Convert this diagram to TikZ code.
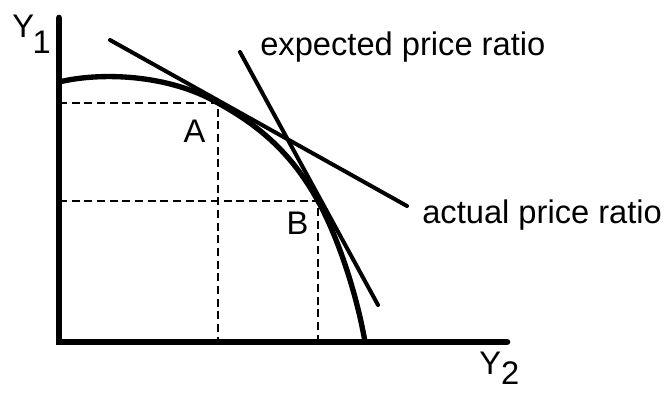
\documentclass[tikz,border=0pt]{standalone}
\usepackage{fontspec}
\setmainfont{Liberation Sans}
\usetikzlibrary{positioning}
\begin{document}
\begin{tikzpicture}[x=0.75pt, y=-0.75pt,
  axisline/.style={line width=5pt, line cap=round},
  ppfcurve/.style={line width=4pt},
  priceline/.style={line width=3pt, line cap=round},
  guide/.style={line width=2pt, dash pattern=on 6pt off 3.5pt},
  lbl/.style={inner sep=0pt, font=\fontsize{24.5}{29}\selectfont}]
\useasboundingbox (0,0) rectangle (671,393);

% axes
\coordinate (top) at (59,18);
\coordinate (origin) at (59,342);
\coordinate (right) at (507,342);
\draw[axisline] (top) -- (origin) -- (right);

% points of tangency
\coordinate (A) at (218,103);
\coordinate (B) at (318,201);

\draw[guide] (origin |- A) -- (A) -- (A |- origin);
\draw[guide] (origin |- B) -- (B) -- (B |- origin);

% production possibility curve
\coordinate (ppfstart) at (59,82);
\coordinate (ppfend) at (365,342);
\draw[ppfcurve] (ppfstart) .. controls (100,72) and (168,74) .. (A)
  .. controls (258,125) and (291,152) .. (B)
  .. controls (338,237) and (357,295) .. (ppfend);

% price lines
\coordinate (act1) at (110,40);
\coordinate (act2) at (407,206);
\coordinate (exp1) at (240,52);
\coordinate (exp2) at (378,305);
\draw[priceline] (act1) -- (act2);
\draw[priceline] (exp1) -- (exp2);

% labels
\node[lbl, anchor=base west] (explabel) at (260,55) {expected price ratio};
\node[lbl, anchor=base west] (actlabel) at (422,223) {actual price ratio};
\node[lbl] (labA) at (194.5,131) {A};
\node[lbl] (labB) at (297.5,223.5) {B};
\node[lbl, anchor=base west] (ylabel) at (12,37) {Y\kern-1pt\raisebox{-12pt}{1}};
\node[lbl, anchor=base west] (xlabel) at (479,374) {Y\raisebox{-8pt}{2}};

\end{tikzpicture}
\end{document}
